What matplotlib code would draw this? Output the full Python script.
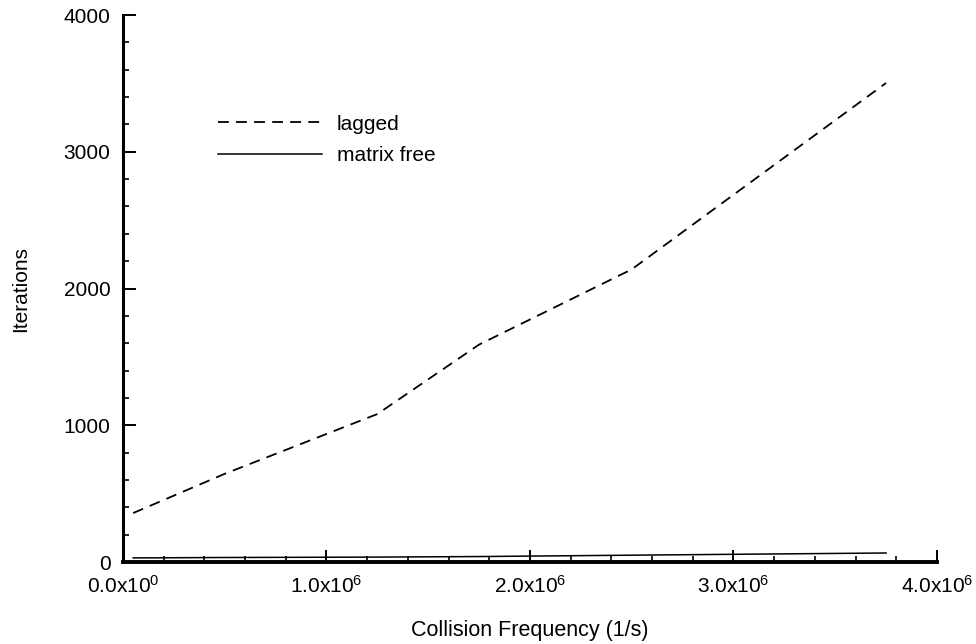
import matplotlib
matplotlib.use("Agg")
import matplotlib.pyplot as plt
from matplotlib.ticker import MultipleLocator, FixedLocator

plt.rcParams['font.family'] = ['Liberation Sans', 'DejaVu Sans']
plt.rcParams['mathtext.fontset'] = 'custom'
plt.rcParams['mathtext.rm'] = 'Liberation Sans'
plt.rcParams['mathtext.default'] = 'regular'

# collision frequency (1/s) and iteration counts
freq_lagged = [0.05e6, 0.5e6, 1.25e6, 1.75e6, 2.5e6, 3.75e6]
iters_lagged = [358, 645, 1082, 1590, 2140, 3503]

freq_mfree = [0.05e6, 0.5e6, 1.25e6, 1.75e6, 2.5e6, 3.75e6]
iters_mfree = [30, 33, 36, 40, 50, 66]

xticks = [0, 1e6, 2e6, 3e6, 4e6]
xticklabels = ["0.0x10$^{0}$", "1.0x10$^{6}$", "2.0x10$^{6}$", "3.0x10$^{6}$", "4.0x10$^{6}$"]
yticks = [0, 1000, 2000, 3000, 4000]

fig = plt.figure(figsize=(9.76, 6.44), dpi=100)
ax = fig.add_axes([0.126, 0.1273, 0.834, 0.8494])

ax.plot(freq_lagged, iters_lagged, color="black", lw=1.3, dashes=(6.0, 4.0), label="lagged")
ax.plot(freq_mfree, iters_mfree, color="black", lw=1.1, label="matrix free")

ax.set_xlim(0, 4e6)
ax.set_ylim(0, 4000)
ax.xaxis.set_major_locator(FixedLocator(xticks))
ax.set_xticklabels(xticklabels)
ax.xaxis.set_minor_locator(MultipleLocator(0.2e6))
ax.yaxis.set_major_locator(FixedLocator(yticks))
ax.yaxis.set_minor_locator(MultipleLocator(200))

for s in ["top", "right"]:
    ax.spines[s].set_visible(False)
ax.spines["left"].set_linewidth(2.2)
ax.spines["bottom"].set_linewidth(2.8)

ax.tick_params(which="major", direction="in", length=9, width=1.4, labelsize=15, pad=9)
ax.tick_params(which="minor", direction="in", length=4, width=1.2)

ax.set_xlabel("Collision Frequency (1/s)", fontsize=15.5, labelpad=17)
ax.set_ylabel("Iterations", fontsize=15, labelpad=24)

ax.legend(loc="center left", bbox_to_anchor=(0.0935, 0.7715), frameon=False,
          fontsize=15, handlelength=5.0, handletextpad=0.72, labelspacing=0.62)

fig.savefig("out.png", dpi=100)
